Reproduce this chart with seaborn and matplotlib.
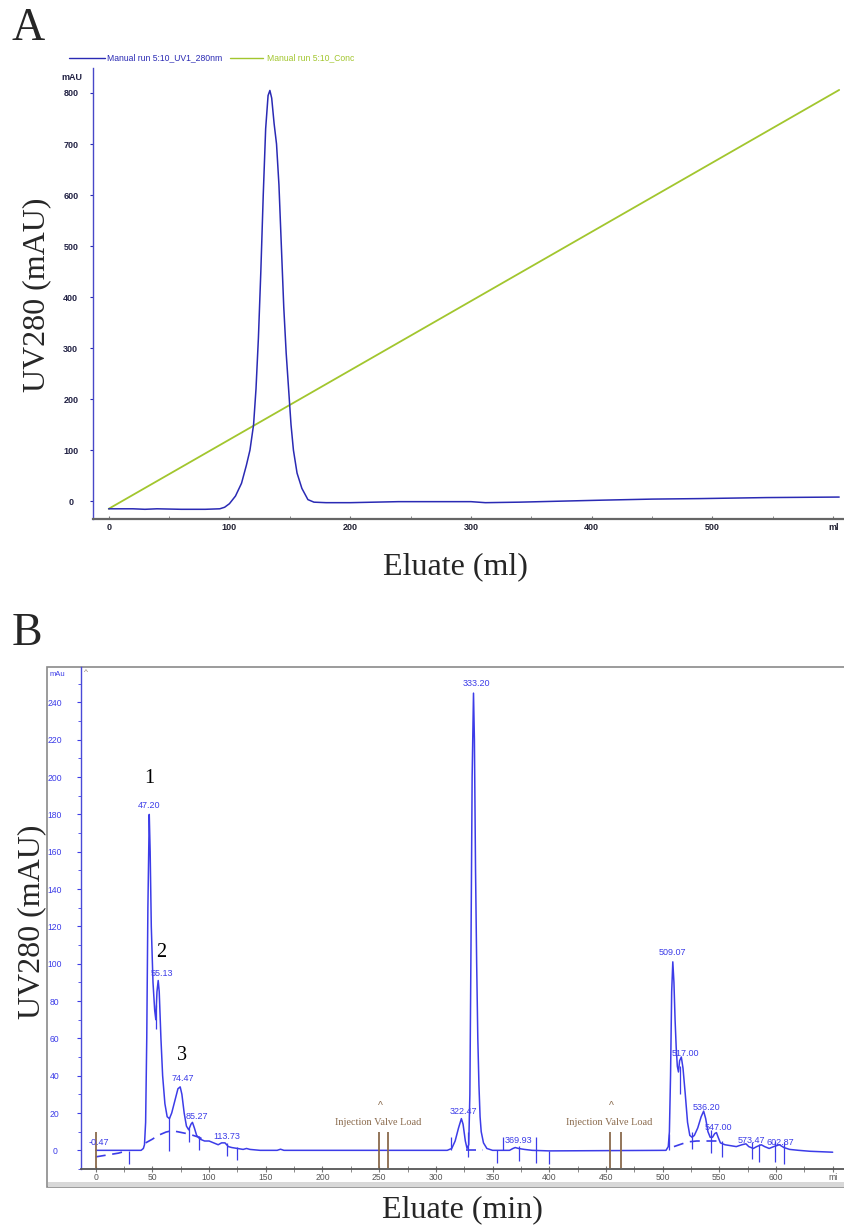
import numpy as np
import pandas as pd
import seaborn as sns
import matplotlib.pyplot as plt
from matplotlib.lines import Line2D
from matplotlib.patches import Rectangle
from matplotlib.ticker import MultipleLocator, FixedLocator

# ---- panel A : elution profile (ml) ----
uvA_x = [0, 20, 30, 40, 60, 80, 92, 96, 100, 105, 110, 114, 117, 120, 122, 124, 126, 128,
         130, 132, 133.5, 135, 137, 139, 141, 143, 145, 147, 149, 151, 153, 156, 160, 165,
         170, 180, 200, 240, 300, 312, 340, 375, 410, 450, 490, 545, 605]
uvA_y = [-15, -15, -16, -15, -16, -16, -15, -12, -5, 10, 35, 70, 100, 150, 220, 320, 450, 600,
         730, 795, 805, 790, 740, 700, 620, 500, 380, 290, 220, 150, 100, 55, 25, 3,
         -2, -3, -3, -1, -1, -3, -2, 0, 2, 4, 5, 7, 8]
conc_x = [0, 605]
conc_y = [-15, 806]
a_xticks = [0, 100, 200, 300, 400, 500, 600]
a_xlabels = ["0", "100", "200", "300", "400", "500", "ml"]
a_yticks = [0, 100, 200, 300, 400, 500, 600, 700, 800]

# ---- panel B : chromatogram (min) ----
uvB_x = [0, 20, 40, 42, 43, 44, 45, 46, 47.2, 48, 49, 50.5, 52, 53, 54, 55.1, 56, 57.5, 59, 61,
         63, 65, 67, 70, 72.5, 74.5, 76, 78, 80, 82, 84, 85.3, 87, 89, 92, 96, 100, 104, 108,
         111, 114, 117, 120, 125, 130, 133, 136, 140, 145, 160, 163, 166, 250, 310, 314, 317,
         320, 322.5, 324, 326, 327.5, 329, 330, 331, 332, 333.2, 334, 335, 336, 337, 338, 339,
         340, 342, 345, 350, 365, 368, 370, 373, 378, 385, 400, 503, 505, 506, 507, 508, 509,
         510, 511, 512, 513, 514, 515, 516.5, 518, 520, 522, 524, 526, 528, 531, 534, 536.2,
         538, 540, 542, 544, 546, 547.5, 549, 551, 555, 560, 565, 570, 573.5, 576, 580, 583,
         587, 590, 594, 598, 603, 607, 612, 620, 630, 650]
uvB_y = [0, 0, 0, 1, 3, 15, 60, 130, 180, 160, 120, 90, 75, 70, 85, 91, 85, 60, 40, 25,
         18, 17, 20, 27, 33, 34, 30, 20, 13, 11, 14, 15, 12, 8, 6, 5, 5, 4, 3,
         4, 4, 2, 1.5, 1, 0.5, 1, 0.5, 0.3, 0, 0, 0.6, 0, 0, 0, 1, 5,
         12, 17, 14, 5, 1, 3, 30, 110, 200, 245, 220, 150, 100, 60, 35, 18,
         10, 4, 1, 0, 0, 1, 1.5, 1, 0.5, 0, -0.3, 0, 2, 10, 40, 85, 101,
         90, 70, 55, 45, 42, 48, 50, 44, 30, 15, 8, 7, 8, 12, 18, 21,
         17, 10, 7, 7, 9, 9.5, 7, 4, 3, 2.5, 2, 3, 3.5, 2, 1, 2,
         3, 2, 1, 2, 3, 1.5, 0.5, 0, -0.5, -1]
base_seg = [1, 1, 1, 1, 2, 2, 2, 2, 2, 2, 2, 2, 2, 2, 3, 3, 4, 4, 4, 4]
base_x = [0, 10, 20, 26, 44, 50, 55, 62, 67, 72, 80, 86, 91, 96, 327, 342, 510, 522, 530, 552]
base_y = [-3.5, -2.5, -1.5, -0.5, 4, 6, 8, 9.8, 10.5, 10, 9, 8, 7, 5.5, 0, 0, 2, 4.5, 5, 5]
mark_x = [29, 53.5, 64.5, 82, 91, 116, 125, 313, 328.6, 353.6, 359, 373, 388, 400,
          506, 515.5, 526, 543, 552, 579, 585, 599, 607]
mark_lo = [-7.5, 65, -0.5, 4.3, 0, -3.2, -5, 0, -3.6, -6.7, 0, -5.8, -6.7, -7.5,
           0, 30, 0.5, -1.2, -3.6, -4.8, -6.4, -6.4, -7.5]
mark_hi = [-0.5, 78, 17.7, 12, 7.5, 4, 2, 7, 9.6, 0, 7, 2.3, 7, -0.4,
           8.6, 45, 9.6, 11, 5, 4.3, 3.2, 5, 4.3]
inj_x = [0, 249.5, 257.5, 453.6, 463.4]
peak_text = ["-0.47", "47.20", "55.13", "74.47", "85.27", "113.73", "322.47", "333.20",
             "369.93", "509.07", "517.00", "536.20", "547.00", "573.47", "602.87"]
peak_tx = [3, 47, 58, 77, 89, 116, 324, 336, 373, 509, 520, 539, 549, 578, 604]
peak_ty = [4, 185, 95, 38.5, 18, 7.5, 21, 250, 5.5, 106, 52, 23, 12, 5.5, 4]
num_text = ["1", "2", "3"]
num_x = [47.6, 58, 76]
num_y = [199, 106, 51]
valve_x = [249, 453]
b_xticks = list(range(0, 651, 50))
b_xlabels = [str(v) for v in range(0, 601, 50)] + ["mi"]
b_yticks = list(range(0, 241, 20))

sns.set_style("white")
plt.rcParams['font.family'] = ['Liberation Sans', 'DejaVu Sans']

W, H = 845, 1226
fig = plt.figure(figsize=(W / 100, H / 100), dpi=100)


def rect(x0, y0, x1, y1):
    # pixel box -> figure fraction [left, bottom, width, height]
    return [x0 / W, 1 - y1 / H, (x1 - x0) / W, (y1 - y0) / H]


def pt(x, y):
    return x / W, 1 - y / H


blueA = "#2a2ab4"
green = "#a2c62e"
blueB = "#3c3ce8"
brown = "#8a6a4c"
serif = ["Liberation Serif", "DejaVu Serif"]

# ---------------- panel A ----------------
axA = fig.add_axes(rect(93, 68, 844, 519))
sns.lineplot(x=conc_x, y=conc_y, ax=axA, color=green, lw=1.3, estimator=None)
sns.lineplot(x=uvA_x, y=uvA_y, ax=axA, color=blueA, lw=1.1, estimator=None, sort=False)
axA.set_xlim(-13, 609)
axA.set_ylim(-35, 849)
axA.set_xticks(a_xticks)
axA.set_xticklabels(a_xlabels)
axA.xaxis.set_minor_locator(MultipleLocator(50))
axA.set_yticks(a_yticks)
axA.tick_params(axis='x', which='both', direction='in', length=2, color='#777777',
                labelsize=6.5, labelcolor='#222233', pad=3, bottom=True)
axA.tick_params(axis='y', direction='out', length=2, color=blueA, labelsize=6.5,
                labelcolor='#222244', pad=14, left=True)
for t in axA.get_xticklabels() + axA.get_yticklabels():
    t.set_fontweight('bold')
for t in axA.get_yticklabels():
    t.set_ha('center')
axA.spines['top'].set_visible(False)
axA.spines['right'].set_visible(False)
axA.spines['left'].set_color('#4848c8')
axA.spines['left'].set_linewidth(1.0)
axA.spines['bottom'].set_color('#666666')
axA.spines['bottom'].set_linewidth(1.6)
axA.set_xlabel("")
axA.set_ylabel("")
fig.text(*pt(72, 77), "mAU", fontsize=6.5, fontweight='bold', color='#222244',
         ha='center', va='center')

# legend drawn as in the instrument export
fig.add_artist(Line2D([69 / W, 105 / W], [1 - 57.5 / H] * 2, color=blueA, lw=1.0))
fig.text(*pt(107, 57.5), "Manual run 5:10_UV1_280nm", fontsize=6.2, color=blueA,
         ha='left', va='center')
fig.add_artist(Line2D([230 / W, 263 / W], [1 - 57.5 / H] * 2, color=green, lw=1.0))
fig.text(*pt(267, 57.5), "Manual run 5:10_Conc", fontsize=6.2, color=green,
         ha='left', va='center')

fig.text(*pt(12, 40), "A", fontsize=33, family=serif, ha='left', va='baseline')
fig.text(*pt(37, 295), "UV280 (mAU)", fontsize=23, family=serif, rotation=90,
         ha='center', va='center')
fig.text(*pt(455, 567), "Eluate (ml)", fontsize=23, family=serif, ha='center', va='center')

# ---------------- panel B ----------------
fig.patches.append(Rectangle(pt(47, 1187), (845 - 47) / W, (1187 - 667) / H,
                             transform=fig.transFigure, facecolor='white',
                             edgecolor='#8a8a8a', lw=1.2, zorder=-2))
fig.patches.append(Rectangle(pt(48, 1187), (845 - 48) / W, 5 / H,
                             transform=fig.transFigure, facecolor='#d8d8d8',
                             edgecolor='none', zorder=-1))

axB = fig.add_axes(rect(81, 667, 844, 1169))
axB.set_zorder(1)
axB.patch.set_alpha(0)
base_df = pd.DataFrame({"seg": base_seg, "x": base_x, "y": base_y})
sns.lineplot(data=base_df, x="x", y="y", units="seg", estimator=None, ax=axB,
             color=blueB, lw=1.2, linestyle=(0, (6, 4)), sort=False)
sns.lineplot(x=uvB_x, y=uvB_y, ax=axB, color=blueB, lw=1.1, estimator=None, sort=False)
axB.vlines(mark_x, mark_lo, mark_hi, color=blueB, lw=0.9)
axB.vlines(inj_x, -9.5, 10, color=brown, lw=1.3)
axB.set_xlim(-13, 660)
axB.set_ylim(-10, 259)
axB.set_xticks(b_xticks)
axB.set_xticklabels(b_xlabels)
axB.xaxis.set_minor_locator(MultipleLocator(25))
axB.set_yticks(b_yticks)
axB.yaxis.set_minor_locator(MultipleLocator(10))
axB.tick_params(axis='x', which='both', direction='inout', length=4, color='#777777',
                labelsize=6.2, labelcolor='#555555', pad=1, bottom=True)
axB.tick_params(axis='y', which='major', direction='out', length=3, color=blueB,
                labelsize=6.2, labelcolor=blueB, pad=16, left=True)
axB.tick_params(axis='y', which='minor', direction='out', length=2, color=blueB, left=True)
for t in axB.get_yticklabels():
    t.set_ha('center')
axB.spines['top'].set_visible(False)
axB.spines['right'].set_visible(False)
axB.spines['left'].set_color('#4a4ad8')
axB.spines['left'].set_linewidth(1.0)
axB.spines['bottom'].set_color('#555555')
axB.spines['bottom'].set_linewidth(1.3)
axB.set_xlabel("")
axB.set_ylabel("")

for s, x, y in zip(peak_text, peak_tx, peak_ty):
    axB.text(x, y, s, fontsize=6.5, color=blueB, ha='center', va='center')
for s, x, y in zip(num_text, num_x, num_y):
    axB.text(x, y, s, fontsize=14.5, family=serif, color='black', ha='center', va='center')
for x in valve_x:
    axB.text(x + 2, 24, "^", fontsize=7.5, color=brown, ha='center', va='center')
    axB.text(x, 15, "Injection Valve Load", fontsize=7.4, family=serif, color=brown,
             ha='center', va='center')
axB.text(-10, 256, "^", fontsize=6, color='#8a7a6a', ha='left', va='center')
fig.text(*pt(57, 675), "mAu", fontsize=5.5, color=blueB, ha='center', va='center')

fig.text(*pt(12, 645), "B", fontsize=33, family=serif, ha='left', va='baseline')
fig.text(*pt(32, 922), "UV280 (mAU)", fontsize=23, family=serif, rotation=90,
         ha='center', va='center')
fig.text(*pt(462, 1210), "Eluate (min)", fontsize=23, family=serif, ha='center', va='center')

fig.savefig("out.png", dpi=100)
